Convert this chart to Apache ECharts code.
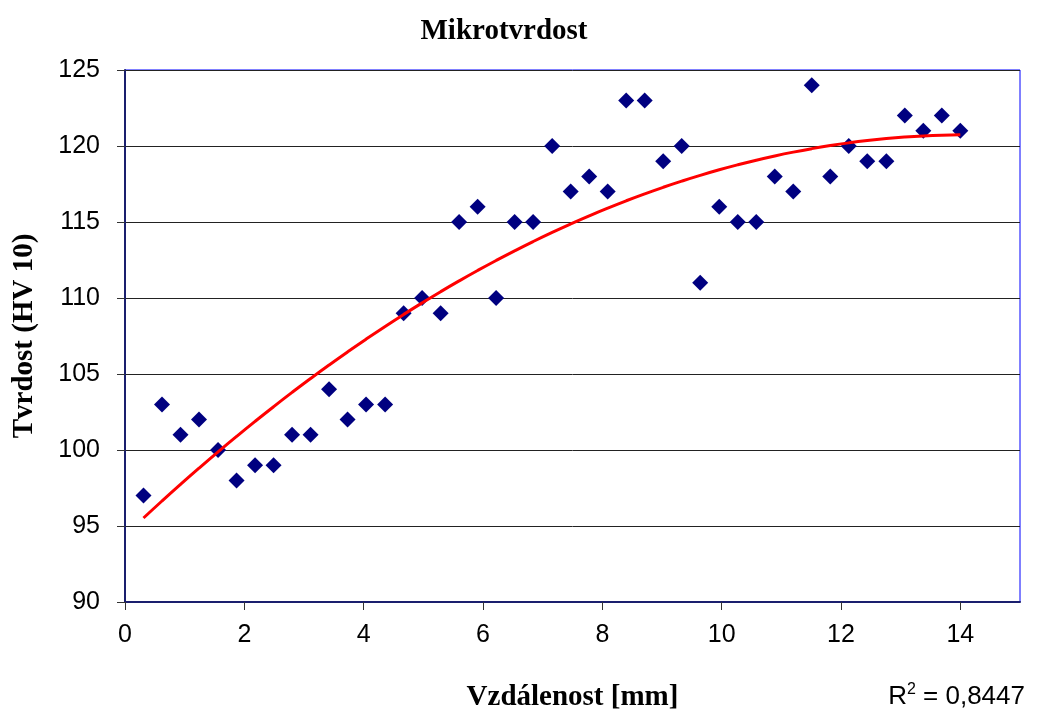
<!DOCTYPE html>
<html>
<head>
<meta charset="utf-8">
<script src="https://cdn.jsdelivr.net/npm/echarts@6/dist/echarts.min.js"></script>
<style>
  html, body { margin: 0; padding: 0; background: #fff; }
  #chart { width: 1047px; height: 717px; }
</style>
</head>
<body>
<div id="chart"></div>
<script>
// vzdalenost od povrchu [mm]
var distance = [0.31, 0.62, 0.93, 1.24, 1.56, 1.87, 2.18, 2.49, 2.80, 3.11,
  3.42, 3.73, 4.04, 4.36, 4.67, 4.98, 5.29, 5.60, 5.91, 6.22,
  6.53, 6.84, 7.16, 7.47, 7.78, 8.09, 8.40, 8.71, 9.02, 9.33,
  9.64, 9.96, 10.27, 10.58, 10.89, 11.20, 11.51, 11.82, 12.13, 12.44,
  12.76, 13.07, 13.38, 13.69, 14.00];
// tvrdost HV 10
var hardness = [97, 103, 101, 102, 100, 98, 99, 99, 101, 101,
  104, 102, 103, 103, 109, 110, 109, 115, 116, 110,
  115, 115, 120, 117, 118, 117, 123, 123, 119, 120,
  111, 116, 115, 115, 118, 117, 124, 118, 120, 119,
  119, 122, 121, 122, 121];
var r2Label = '0,8447';

// polynomicky trend 2. radu (nejmensi ctverce), jako v Excelu
function polyFit2(xs, ys) {
  var n = xs.length, s = [0, 0, 0, 0, 0], t = [0, 0, 0];
  for (var i = 0; i < n; i++) {
    var p = 1;
    for (var k = 0; k < 5; k++) {
      s[k] += p;
      if (k < 3) t[k] += p * ys[i];
      p *= xs[i];
    }
  }
  var m = [[s[0], s[1], s[2], t[0]], [s[1], s[2], s[3], t[1]], [s[2], s[3], s[4], t[2]]];
  for (var c = 0; c < 3; c++) {
    for (var r = c + 1; r < 3; r++) {
      var f = m[r][c] / m[c][c];
      for (var j = c; j < 4; j++) m[r][j] -= f * m[c][j];
    }
  }
  var coef = [0, 0, 0];
  for (var r2 = 2; r2 >= 0; r2--) {
    var v = m[r2][3];
    for (var j2 = r2 + 1; j2 < 3; j2++) v -= m[r2][j2] * coef[j2];
    coef[r2] = v / m[r2][r2];
  }
  return coef;
}
var coef = polyFit2(distance, hardness);
var trend = distance.map(function (x) {
  return [x, coef[0] + coef[1] * x + coef[2] * x * x];
});

var myChart = echarts.init(document.getElementById('chart'));
var option = {
  backgroundColor: '#ffffff',
  animation: false,
  title: {
    text: 'Mikrotvrdost',
    left: 499,
    top: 12,
    textAlign: 'center',
    textStyle: {
      fontFamily: 'Liberation Serif',
      fontWeight: 'bold',
      fontSize: 29,
      color: '#000'
    }
  },
  grid: {
    left: 125,
    right: 27,
    top: 70,
    bottom: 112,
    show: true,
    borderColor: '#0000ff',
    borderWidth: 1
  },
  xAxis: {
    type: 'value',
    min: 0,
    max: 15,
    interval: 2,
    name: 'Vzdálenost [mm]',
    nameLocation: 'middle',
    nameGap: 81,
    nameTextStyle: {
      fontFamily: 'Liberation Serif',
      fontWeight: 'bold',
      fontSize: 29,
      color: '#000'
    },
    axisLine: { lineStyle: { color: '#1a1f6e', width: 2 } },
    axisTick: { show: true, length: 8, lineStyle: { color: '#333' } },
    axisLabel: {
      showMaxLabel: false,
      margin: 21,
      fontFamily: 'Liberation Sans',
      fontSize: 25,
      color: '#000'
    },
    splitLine: { show: false }
  },
  yAxis: {
    type: 'value',
    min: 90,
    max: 125,
    interval: 5,
    name: 'Tvrdost (HV 10)',
    nameLocation: 'middle',
    nameGap: 86,
    nameTextStyle: {
      fontFamily: 'Liberation Serif',
      fontWeight: 'bold',
      fontSize: 29,
      color: '#000'
    },
    axisLine: { show: true, lineStyle: { color: '#1a1f6e', width: 2 } },
    axisTick: { show: true, length: 8, lineStyle: { color: '#333' } },
    axisLabel: {
      margin: 25,
      fontFamily: 'Liberation Sans',
      fontSize: 25,
      color: '#000'
    },
    splitLine: { show: true, lineStyle: { color: '#222', width: 1 } }
  },
  series: [
    {
      type: 'scatter',
      data: distance.map(function (x, i) { return [x, hardness[i]]; }),
      symbol: 'diamond',
      symbolSize: 16,
      itemStyle: { color: '#000080', opacity: 1 },
      z: 3
    },
    {
      type: 'line',
      data: trend,
      smooth: true,
      showSymbol: false,
      symbol: 'none',
      lineStyle: { color: '#ff0000', width: 3 },
      z: 4
    }
  ],
  graphic: [
    {
      type: 'text',
      right: 22,
      top: 682,
      style: {
        text: '{r|R}{s|2}{r| = ' + r2Label + '}',
        rich: {
          r: { fontFamily: 'Liberation Sans', fontSize: 26, fill: '#000', verticalAlign: 'bottom' },
          s: { fontFamily: 'Liberation Sans', fontSize: 16, fill: '#000', verticalAlign: 'top', padding: [0, 0, 12, 0] }
        }
      }
    }
  ]
};
option && myChart.setOption(option);
window.addEventListener('resize', function () {
  myChart.resize();
});
</script>
</body>
</html>
